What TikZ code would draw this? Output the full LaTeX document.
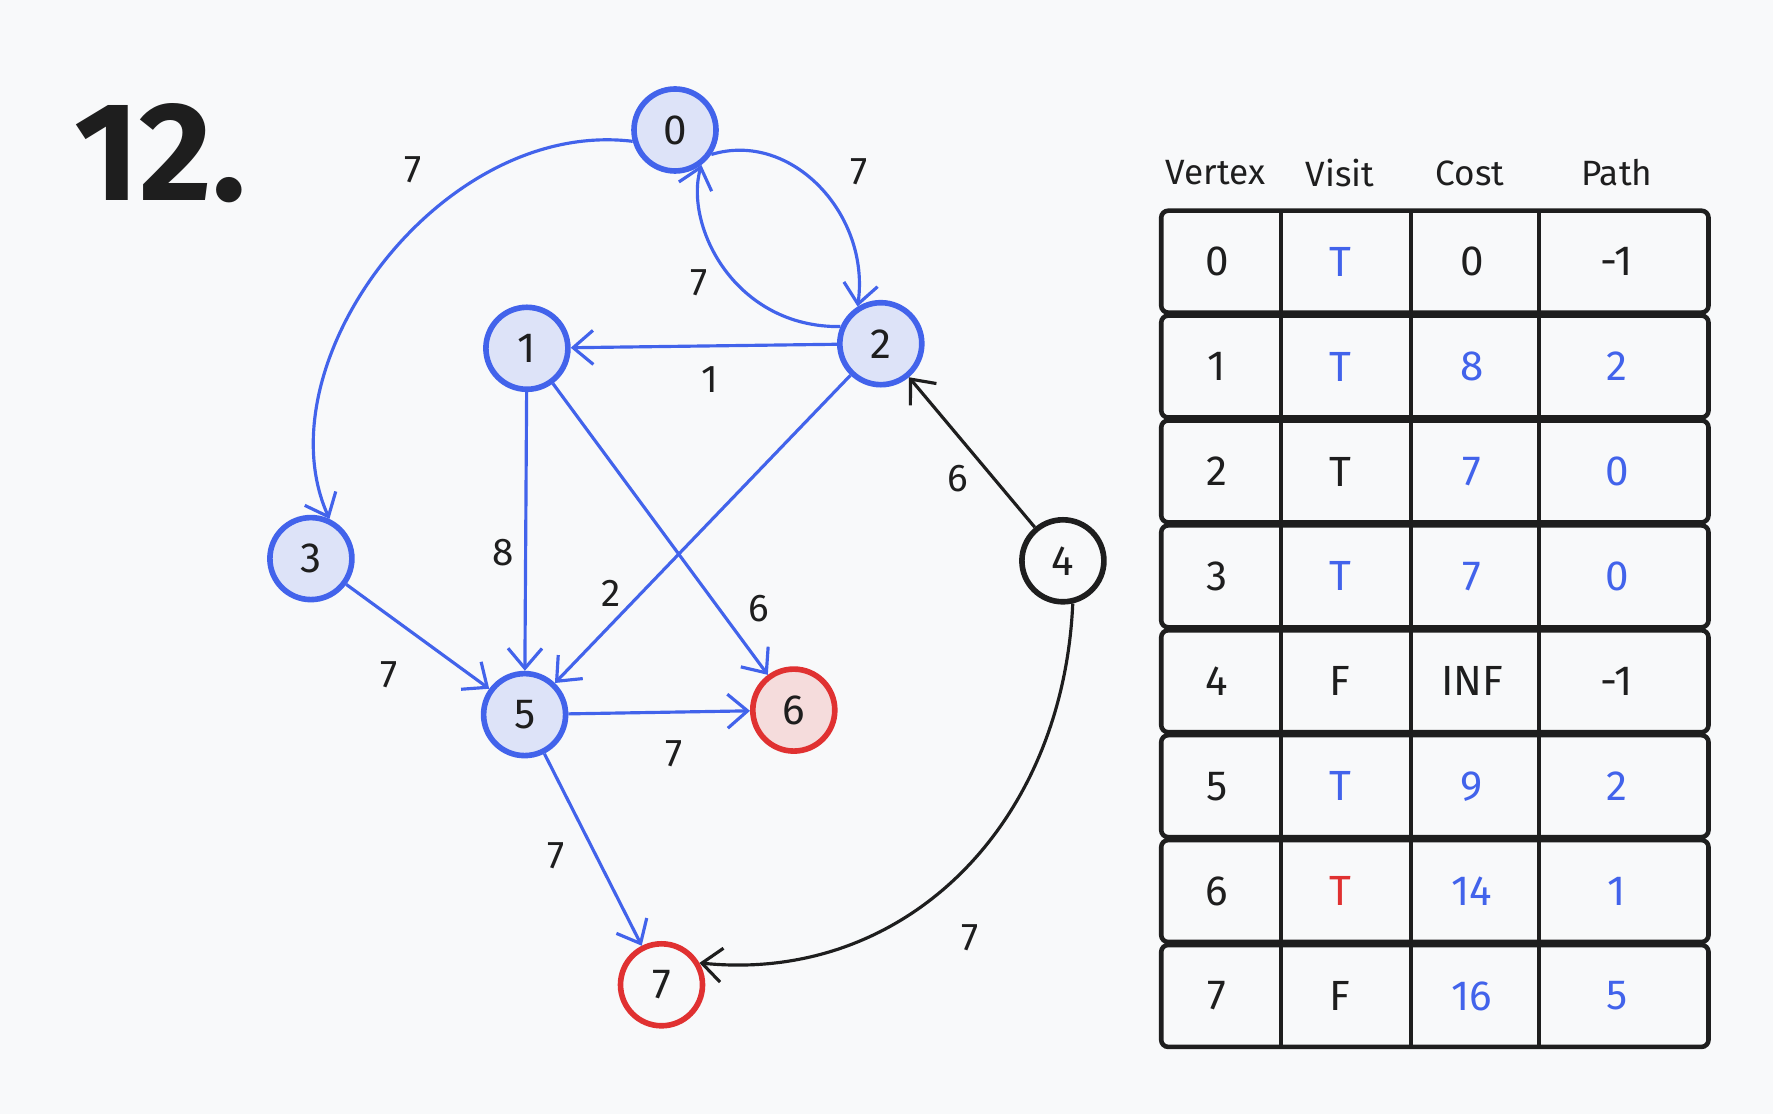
\documentclass[tikz,border=0pt]{standalone}
\usepackage{fontspec}
\setmainfont{Fira Sans}
\usetikzlibrary{arrows.meta}
\definecolor{bgpaper}{RGB}{248,249,250}
\definecolor{inkblack}{RGB}{30,30,30}
\definecolor{graphblue}{RGB}{66,99,235}
\definecolor{graphred}{RGB}{224,49,49}
\definecolor{seenfill}{RGB}{221,227,248}
\definecolor{targetfill}{RGB}{245,220,220}
\newcommand{\blu}[1]{\textcolor{graphblue}{#1}}
\newcommand{\redt}[1]{\textcolor{graphred}{#1}}

\begin{document}
\begin{tikzpicture}[
  vtx/.style={circle,minimum size=8.2mm,inner sep=0pt,line width=1.6pt,text=inkblack,font=\fontsize{12}{14}\selectfont},
  seen/.style={vtx,draw=graphblue,fill=seenfill},
  target/.style={vtx,draw=graphred,fill=targetfill},
  wt/.style={inner sep=1pt,text=inkblack,font=\fontsize{11}{13}\selectfont},
  bluearc/.style={draw=graphblue,line width=0.9pt,-{Straight Barb[length=2mm,width=3.4mm]}},
  blackarc/.style={draw=inkblack,line width=0.9pt,-{Straight Barb[length=2mm,width=3.4mm]}},
  cell/.style={inner sep=0pt,text=inkblack,font=\fontsize{12}{14}\selectfont},
  head/.style={inner sep=0pt,text=inkblack,font=\fontsize{10}{12}\selectfont}]
\useasboundingbox (0,0) rectangle (17.73,11.14);
\fill[bgpaper] (0,0) rectangle (17.73,11.14);

\node (title) [text=inkblack,font=\fontsize{40}{42}\bfseries\selectfont] at (1.60,9.61) {12.};

% vertices
\node (n0) [seen] at (6.750,9.840) {0};
\node (n1) [seen] at (5.269,7.657) {1};
\node (n2) [seen] at (8.808,7.703) {2};
\node (n3) [seen] at (3.109,5.554) {3};
\node (n4) [vtx,draw=inkblack,fill=bgpaper] at (10.629,5.532) {4};
\node (n5) [seen] at (5.246,3.994) {5};
\node (n6) [target] at (7.938,4.039) {6};
\node (n7) [vtx,draw=graphred,fill=bgpaper] at (6.615,1.292) {7};

% edges
\draw[bluearc] (n0.195) .. controls (4.410,9.960) and (2.600,7.500) .. (n3.65);
\draw[bluearc] (n0.326) .. controls (7.915,9.840) and (8.706,8.992) .. (n2.122);
\draw[bluearc] (n2.157) .. controls (7.350,7.861) and (6.841,8.879) .. (n0.307);
\draw[bluearc] (n2) -- (n1);
\draw[bluearc] (n1) -- (n5);
\draw[bluearc] (n1) -- (n6);
\draw[bluearc] (n2) -- (n5);
\draw[bluearc] (n3) -- (n5);
\draw[bluearc] (n5) -- (n6);
\draw[bluearc] (n5) -- (n7);
\draw[blackarc] (n4) -- (n2);
\draw[blackarc] (n4.283) .. controls (10.629,2.886) and (9.046,1.303) .. (n7.30);

% weights
\node (l03) [wt] at (4.127,9.444) {7};
\node (l02) [wt] at (8.593,9.421) {7};
\node (l20) [wt] at (6.988,8.313) {7};
\node (l21) [wt] at (7.101,7.341) {1};
\node (l15) [wt] at (5.032,5.611) {8};
\node (l16) [wt] at (7.587,5.057) {6};
\node (l25) [wt] at (6.106,5.204) {2};
\node (l35) [wt] at (3.890,4.390) {7};
\node (l56) [wt] at (6.739,3.598) {7};
\node (l57) [wt] at (5.563,2.581) {7};
\node (l42) [wt] at (9.577,6.357) {6};
\node (l47) [wt] at (9.701,1.766) {7};

% table
\node (hvertex) [head] at (12.155,9.41) {Vertex};
\node (hvisit) [head] at (13.399,9.41) {Visit};
\node (hcost) [head] at (14.699,9.41) {Cost};
\node (hpath) [head] at (16.169,9.41) {Path};
\foreach \v/\vis/\cost/\pth [count=\r from 0] in
  {0/\blu{T}/0/-1, 1/\blu{T}/\blu{8}/\blu{2}, 2/T/\blu{7}/\blu{0}, 3/\blu{T}/\blu{7}/\blu{0},
   4/F/INF/-1, 5/\blu{T}/\blu{9}/\blu{2}, 6/\redt{T}/\blu{14}/\blu{1}, 7/F/\blu{16}/\blu{5}}
{
  \pgfmathsetmacro{\ytop}{9.048-\r*1.049}
  \pgfmathsetmacro{\ybot}{\ytop-1.049}
  \pgfmathsetmacro{\ymid}{\ytop-0.525}
  \draw[inkblack,line width=1.3pt,rounded corners=2pt] (11.612,\ytop-0.015) rectangle (17.085,\ybot+0.015);
  \draw[inkblack,line width=1.2pt] (12.811,\ytop) -- (12.811,\ybot)
    (14.111,\ytop) -- (14.111,\ybot) (15.389,\ytop) -- (15.389,\ybot);
  \node (v-\r) [cell] at (12.17,\ymid) {\v};
  \node (s-\r) [cell] at (13.40,\ymid) {\vis};
  \node (c-\r) [cell] at (14.72,\ymid) {\cost};
  \node (p-\r) [cell] at (16.17,\ymid) {\pth};
}
\end{tikzpicture}
\end{document}
